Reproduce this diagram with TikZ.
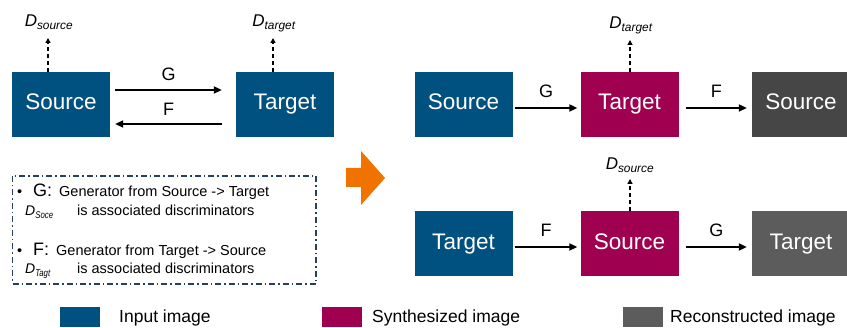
\documentclass[tikz,border=0pt]{standalone}
\usepackage{fontspec}
\setmainfont{Liberation Sans}
\usetikzlibrary{arrows.meta}

\definecolor{inblue}{RGB}{0,81,128}
\definecolor{synmag}{RGB}{160,0,80}
\definecolor{recdark}{RGB}{70,70,70}
\definecolor{reclight}{RGB}{92,92,92}
\definecolor{noteline}{RGB}{40,64,96}
\definecolor{turnorange}{RGB}{240,115,0}

\tikzset{
  img/.style={minimum width=98pt, minimum height=65pt, inner sep=0pt, text=white,
    text height=16pt, text depth=5pt, font=\fontsize{22.5}{26}\selectfont},
  gen/.style={-{Triangle[length=8pt,width=7pt]}, line width=2pt},
  disc/.style={-{Triangle[length=5pt,width=5pt]}, line width=1.8pt, dash pattern=on 4pt off 3pt},
  dlabel/.style={anchor=base, inner sep=0pt, font=\fontsize{17}{20}\selectfont\itshape},
  glabel/.style={inner sep=0pt, font=\fontsize{18}{21}\selectfont},
  note/.style={anchor=base west, inner sep=0pt, font=\fontsize{14.5}{17}\selectfont},
  notekey/.style={anchor=base west, inner sep=0pt, font=\fontsize{18}{20}\selectfont},
  notedisc/.style={anchor=base west, inner sep=0pt, font=\fontsize{14}{16}\selectfont\itshape},
  swatch/.style={minimum width=40pt, minimum height=20pt, inner sep=0pt},
  keytext/.style={anchor=base west, inner sep=0pt, font=\fontsize{17.5}{20}\selectfont}
}

\begin{document}
\begin{tikzpicture}[x=1pt, y=-1pt]
\useasboundingbox (0,0) rectangle (847,328);
\clip (0,0) rectangle (847,328);

% cycle between the two domains
\node[img, fill=inblue] (src) at (61,104.5) {Source};
\node[img, fill=inblue] (tgt) at (285,104.5) {Target};
\draw[gen] ([xshift=5pt, yshift=14.5pt]src.east) -- ([xshift=-14pt, yshift=14.5pt]tgt.west)
  node[glabel, midway, above=8pt] (glbl) {G};
\draw[gen] ([xshift=-14pt, yshift=-19.5pt]tgt.west) -- ([xshift=5pt, yshift=-19.5pt]src.east)
  node[glabel, midway, above=7pt] (flbl) {F};
\node[dlabel] (dsrc) at (49,27) {D\textsubscript{source}};
\node[dlabel] (dtgt) at (274,27) {D\textsubscript{target}};
\coordinate (dsrctip) at (48,38);
\coordinate (dtgttip) at (273,38);
\draw[disc] (dsrctip |- src.north) -- (dsrctip);
\draw[disc] (dtgttip |- tgt.north) -- (dtgttip);

% notes
\draw[noteline, line width=1.1pt, dash pattern=on 6pt off 3pt on 1.5pt off 3pt]
  (12.7,176) rectangle (316,284);
\node[note] (gdot) at (17,197) {\textbullet};
\node[notekey] (gkey) at (33,197) {G:};
\node[note] (gtext) at (59,197) {Generator from Source -> Target};
\node[notedisc] (gdisc) at (25,216) {D\textsubscript{\scalebox{0.8}[1]{Soce}}};
\node[note] (gdtext) at (77,216) {is associated discriminators};
\node[note] (fdot) at (17,256) {\textbullet};
\node[notekey] (fkey) at (33,256) {F:};
\node[note] (ftext) at (56,256) {Generator from Target -> Source};
\node[notedisc] (fdisc) at (25,274) {D\textsubscript{\scalebox{0.8}[1]{Tagt}}};
\node[note] (fdtext) at (77,274) {is associated discriminators};

% orange turn arrow
\fill[turnorange] (346,168) -- (361,168) -- (361,151) -- (385,178) -- (361,205)
  -- (361,187) -- (346,187) -- cycle;

% forward cycle
\node[img, fill=inblue] (src1) at (463.5,104.5) {Source};
\node[img, fill=synmag] (fake1) at (629.5,104.5) {Target};
\node[img, fill=recdark] (rec1) at (801,104.5) {Source};
\draw[gen] ([xshift=2pt, yshift=-3.5pt]src1.east) -- ([xshift=-3pt, yshift=-3.5pt]fake1.west)
  node[glabel, midway, above=9pt] (g1lbl) {G};
\draw[gen] ([xshift=7pt, yshift=-3.5pt]fake1.east) -- ([xshift=-5pt, yshift=-3.5pt]rec1.west)
  node[glabel, midway, above=9pt] (f1lbl) {F};
\node[dlabel] (dtgt1) at (631,29) {D\textsubscript{target}};
\coordinate (dtgt1tip) at (630,40);
\draw[disc] (dtgt1tip |- fake1.north) -- (dtgt1tip);

% backward cycle
\node[img, fill=inblue] (tgt2) at (463.5,244) {Target};
\node[img, fill=synmag] (fake2) at (629.5,244) {Source};
\node[img, fill=reclight] (rec2) at (801,244) {Target};
\draw[gen] ([xshift=2pt, yshift=-3pt]tgt2.east) -- ([xshift=-3pt, yshift=-3pt]fake2.west)
  node[glabel, midway, above=9pt] (f2lbl) {F};
\draw[gen] ([xshift=7pt, yshift=-3pt]fake2.east) -- ([xshift=-5pt, yshift=-3pt]rec2.west)
  node[glabel, midway, above=9pt] (g2lbl) {G};
\node[dlabel] (dsrc2) at (630,170) {D\textsubscript{source}};
\coordinate (dsrc2tip) at (630,179);
\draw[disc] (dsrc2tip |- fake2.north) -- (dsrc2tip);

% legend
\node[swatch, fill=inblue] (inkey) at (79.5,317) {};
\node[keytext] (intext) at (119,323) {Input image};
\node[swatch, fill=synmag] (synkey) at (341.5,317) {};
\node[keytext] (syntext) at (372,323) {Synthesized image};
\node[swatch, fill=reclight] (reckey) at (642.5,317) {};
\node[keytext] (rectext) at (670,323) {Reconstructed image};
\end{tikzpicture}
\end{document}
